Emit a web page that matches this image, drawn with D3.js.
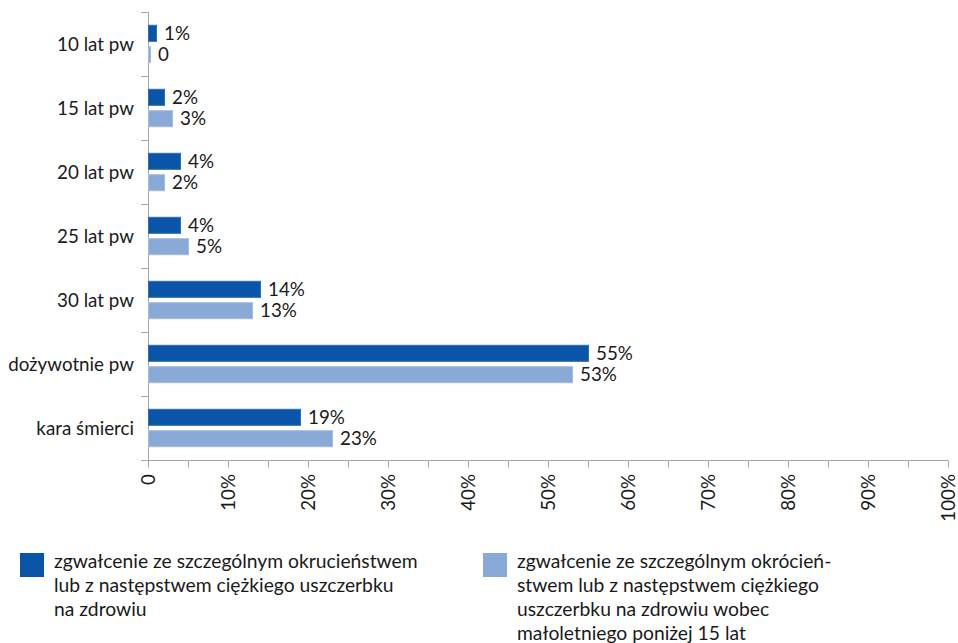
<!DOCTYPE html>
<html>
<head>
<meta charset="utf-8">
<script src="https://cdnjs.cloudflare.com/ajax/libs/d3/7.9.0/d3.min.js"></script>
<style>
  html, body { margin: 0; padding: 0; background: #fff; }
  svg { display: block; }
</style>
</head>
<body>
<div id="chart"></div>
<script>
// categories (top to bottom)
const categories = ['10 lat pw', '15 lat pw', '20 lat pw', '25 lat pw', '30 lat pw', 'dożywotnie pw', 'kara śmierci'];
// series values, percent
const seriesA = [1, 2, 4, 4, 14, 55, 19];
const seriesB = [0.25, 3, 2, 5, 13, 53, 23];
const seriesNames = [
  ['zgwałcenie ze szczególnym okrucieństwem', 'lub z następstwem ciężkiego uszczerbku', 'na zdrowiu'],
  ['zgwałcenie ze szczególnym okrócień-', 'stwem lub z następstwem ciężkiego', 'uszczerbku na zdrowiu wobec', 'małoletniego poniżej 15 lat']
];
const xTicks = [0, 10, 20, 30, 40, 50, 60, 70, 80, 90, 100];

const width = 958, height = 643;
const colors = ['#0b55a8', '#87aad6'];
const strokes = ['#2f6db5', '#a3bfe0'];
const font = 'Lato, sans-serif';
const fontSize = 18.8;

const svg = d3.select('#chart').append('svg')
  .attr('width', width).attr('height', height);

const x = d3.scaleLinear().domain([0, 100]).range([148, 948]);
const y = d3.scaleBand().domain(categories).range([12, 460]);
const inner = d3.scaleBand().domain([0, 1]).range([13.3, 50.7]).paddingInner(0.25);

const fmt = v => Math.round(v) === 0 ? '0' : Math.round(v) + '%';
const axisColor = '#a6a6a6';

// x axis line + ticks every 5%
const xAxisY = 460.5;
svg.append('line')
  .attr('x1', 141).attr('x2', x(100)).attr('y1', xAxisY).attr('y2', xAxisY)
  .attr('stroke', axisColor);
svg.append('g').selectAll('line')
  .data(d3.range(0, 101, 5))
  .join('line')
  .attr('x1', d => Math.round(x(d)) + 0.5).attr('x2', d => Math.round(x(d)) + 0.5)
  .attr('y1', xAxisY).attr('y2', xAxisY + 7)
  .attr('stroke', axisColor);

svg.append('g').selectAll('text')
  .data(xTicks)
  .join('text')
  .attr('transform', d => `translate(${x(d) + 7},${474}) rotate(-90)`)
  .attr('text-anchor', 'end')
  .attr('font-family', font)
  .attr('font-size', fontSize)
  .attr('fill', '#1a1a1a')
  .text(d => d === 0 ? '0' : d + '%');

// y axis line + band separators
svg.append('line')
  .attr('x1', 148.5).attr('x2', 148.5).attr('y1', 12).attr('y2', xAxisY)
  .attr('stroke', axisColor);
svg.append('g').selectAll('line')
  .data(categories.map(c => y(c)))
  .join('line')
  .attr('x1', 141).attr('x2', 148.5)
  .attr('y1', d => Math.round(d) + 0.5).attr('y2', d => Math.round(d) + 0.5)
  .attr('stroke', axisColor);

// category labels
svg.append('g').selectAll('text')
  .data(categories)
  .join('text')
  .attr('x', 134)
  .attr('y', d => y(d) + y.bandwidth() / 2)
  .attr('dy', '0.35em')
  .attr('text-anchor', 'end')
  .attr('font-family', font)
  .attr('font-size', fontSize)
  .attr('fill', '#1a1a1a')
  .text(d => d);

// bars
[seriesA, seriesB].forEach((series, si) => {
  const g = svg.append('g');
  g.selectAll('rect')
    .data(series)
    .join('rect')
    .attr('x', x(0) + 0.5)
    .attr('y', (d, i) => y(categories[i]) + inner(si))
    .attr('width', d => Math.max(0, x(d) - x(0)))
    .attr('height', inner.bandwidth())
    .attr('fill', colors[si])
    .attr('stroke', strokes[si])
    .attr('stroke-width', 1);
  g.selectAll('text')
    .data(series)
    .join('text')
    .attr('x', d => x(d) + 8)
    .attr('y', (d, i) => y(categories[i]) + inner(si) + inner.bandwidth() / 2)
    .attr('dy', '0.35em')
    .attr('font-family', font)
    .attr('font-size', fontSize)
    .attr('fill', '#1a1a1a')
    .text(fmt);
});

// legend
const legendX = [20, 483];
seriesNames.forEach((lines, si) => {
  const g = svg.append('g').attr('transform', `translate(${legendX[si]},553)`);
  g.append('rect')
    .attr('width', 24).attr('height', 24)
    .attr('fill', colors[si]);
  g.selectAll('text')
    .data(lines)
    .join('text')
    .attr('x', 34)
    .attr('y', (d, i) => 15 + i * 24)
    .attr('font-family', font)
    .attr('font-size', 19.3)
    .attr('fill', '#1a1a1a')
    .text(d => d);
});
</script>
</body>
</html>
